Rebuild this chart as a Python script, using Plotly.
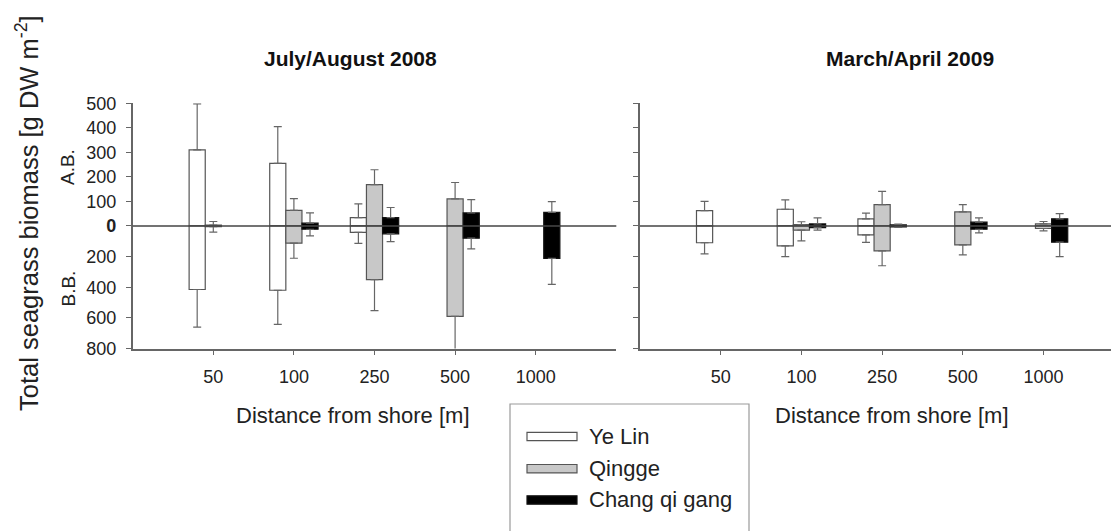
import plotly.graph_objects as go

W, H = 1111, 531

# ---------------- data ----------------
distances = ["50", "100", "250", "500", "1000"]
series_names = ["Ye Lin", "Qingge", "Chang qi gang"]
series_fill = ["#ffffff", "#c8c8c8", "#000000"]
series_edge = ["#555555", "#555555", "#111111"]
panel_titles = ["July/August 2008", "March/April 2009"]

# above-ground biomass (A.B.) and its error, below-ground biomass (B.B.) and its error
# July/August 2008
ab08_yelin = [310, 255, 34, None, None]
ab08_yelin_err = [188, 150, 56, None, None]
bb08_yelin = [415, 420, 42, None, None]
bb08_yelin_err = [245, 222, 72, None, None]

ab08_qingge = [3, 63, 168, 110, None]
ab08_qingge_err = [15, 48, 61, 67, None]
bb08_qingge = [5, 113, 350, 590, None]
bb08_qingge_err = [35, 98, 203, 260, None]

ab08_cqg = [None, 11, 34, 53, 55]
ab08_cqg_err = [None, 42, 41, 54, 44]
bb08_cqg = [None, 22, 52, 80, 212]
bb08_cqg_err = [None, 43, 50, 70, 170]

# March/April 2009
ab09_yelin = [62, 68, 29, None, None]
ab09_yelin_err = [38, 38, 23, None, None]
bb09_yelin = [110, 130, 58, None, None]
bb09_yelin_err = [72, 70, 50, None, None]

ab09_qingge = [None, 5, 87, 57, 8]
ab09_qingge_err = [None, 12, 54, 30, 10]
bb09_qingge = [None, 28, 163, 124, 17]
bb09_qingge_err = [None, 70, 97, 65, 15]

ab09_cqg = [None, 8, 4, 15, 29]
ab09_cqg_err = [None, 25, 3, 18, 21]
bb09_cqg = [None, 11, 6, 22, 106]
bb09_cqg_err = [None, 17, 3, 24, 95]

ab_ticks = [500, 400, 300, 200, 100, 0]
bb_ticks = [200, 400, 600, 800]
BB_SCALE = 500 / 800  # below-ground part is drawn on a compressed scale

panels = [
    [(ab08_yelin, ab08_yelin_err, bb08_yelin, bb08_yelin_err),
     (ab08_qingge, ab08_qingge_err, bb08_qingge, bb08_qingge_err),
     (ab08_cqg, ab08_cqg_err, bb08_cqg, bb08_cqg_err)],
    [(ab09_yelin, ab09_yelin_err, bb09_yelin, bb09_yelin_err),
     (ab09_qingge, ab09_qingge_err, bb09_qingge, bb09_qingge_err),
     (ab09_cqg, ab09_cqg_err, bb09_cqg, bb09_cqg_err)],
]

FONT = "Liberation Sans, Arial, sans-serif"
AXC = "#666666"


def px_x(x):
    return x / W


def px_y(y):
    return 1 - y / H


def neg(vals, scale=1.0):
    return [None if v is None else -v * scale for v in vals]


def zeros_like(vals):
    return [None if v is None else 0 for v in vals]


fig = go.Figure()
bar_w = 0.2
for p, series in enumerate(panels):
    xa = "x" if p == 0 else "x2"
    ya = "y" if p == 0 else "y2"
    for i, (ab, abe, bb, bbe) in enumerate(series):
        off = -0.3 + i * bar_w
        common = dict(
            x=distances, xaxis=xa, yaxis=ya, width=bar_w, offset=off,
            marker=dict(color=series_fill[i], line=dict(color=series_edge[i], width=1.2)),
            name=series_names[i], showlegend=False, legendgroup=series_names[i],
            hoverinfo="skip",
        )
        fig.add_trace(go.Bar(
            y=ab,
            error_y=dict(type="data", symmetric=False, array=abe, arrayminus=zeros_like(abe),
                         color=AXC, thickness=1.2, width=4),
            **common))
        fig.add_trace(go.Bar(
            y=neg(bb, BB_SCALE),
            error_y=dict(type="data", symmetric=False, array=zeros_like(bbe),
                         arrayminus=[None if v is None else v * BB_SCALE for v in bbe],
                         color=AXC, thickness=1.2, width=4),
            **common))

tickvals = ab_ticks + [-v * BB_SCALE for v in bb_ticks]
ticktext = [("<b>0</b>" if v == 0 else str(v)) for v in ab_ticks] + [str(v) for v in bb_ticks]

ydom = [px_y(348.5), px_y(103.3)]
yax = dict(range=[-500, 500], domain=ydom, tickvals=tickvals, ticktext=ticktext,
           showline=True, linecolor=AXC, linewidth=1.5, ticks="outside", ticklen=5,
           tickcolor=AXC, tickwidth=1.2, showgrid=False, zeroline=False, automargin=False,
           tickfont=dict(family=FONT, size=18, color="#222222"), ticklabelstandoff=6)
xax = dict(type="category", showline=True, linecolor=AXC, linewidth=1.5, ticks="outside",
           ticklen=5, tickcolor=AXC, tickwidth=1.2, showgrid=False, zeroline=False,
           automargin=False,
           tickfont=dict(family=FONT, size=18, color="#222222"), ticklabelstandoff=6)

fig.update_layout(
    template="none",
    width=W, height=H, autosize=False,
    margin=dict(l=0, r=0, t=0, b=0, pad=0),
    paper_bgcolor="white", plot_bgcolor="white",
    barmode="overlay", showlegend=False,
    xaxis=dict(xax, domain=[px_x(132.7), px_x(616.3)], range=[-1, 5], anchor="y"),
    xaxis2=dict(xax, domain=[px_x(640), 1], range=[-1, 4.836], anchor="y2"),
    yaxis=dict(yax, anchor="x"),
    yaxis2=dict(yax, anchor="x2", showticklabels=False),
)

# zero lines drawn over the bars
for xr, yr in (("x domain", "y"), ("x2 domain", "y2")):
    fig.add_shape(type="line", xref=xr, yref=yr, x0=0, x1=1, y0=0, y1=0,
                  line=dict(color="#444444", width=1.5), layer="above")

ann = []
# panel titles
for t, cx in zip(panel_titles, (351, 910)):
    ann.append(dict(text="<b>%s</b>" % t, x=px_x(cx), y=px_y(58), xref="paper", yref="paper",
                    showarrow=False, xanchor="center", yanchor="middle",
                    font=dict(family=FONT, size=21, color="#111111")))
# x axis titles
for cx in (352.5, 891.5):
    ann.append(dict(text="Distance from shore [m]", x=px_x(cx), y=px_y(415), xref="paper",
                    yref="paper", showarrow=False, xanchor="center", yanchor="middle",
                    font=dict(family=FONT, size=22, color="#222222")))
# y axis title
ann.append(dict(text="Total seagrass biomass [g DW m<sup>-2</sup>]", x=px_x(27), y=px_y(213),
                xref="paper", yref="paper", showarrow=False, textangle=-90,
                xanchor="center", yanchor="middle",
                font=dict(family=FONT, size=25.5, color="#222222")))
for t, cy in (("A.B.", 167), ("B.B.", 288.5)):
    ann.append(dict(text=t, x=px_x(68), y=px_y(cy), xref="paper", yref="paper",
                    showarrow=False, textangle=-90, xanchor="center", yanchor="middle",
                    font=dict(family=FONT, size=19, color="#222222")))

# legend (box runs off the bottom of the picture, as in the original)
fig.add_shape(type="rect", xref="paper", yref="paper", x0=px_x(510), x1=px_x(749),
              y0=px_y(560), y1=px_y(404), line=dict(color="#9a9a9a", width=1.2),
              fillcolor="rgba(0,0,0,0)", layer="above")
leg_y = [436.5, 468.7, 500]
for i, name in enumerate(series_names):
    cy = leg_y[i]
    fig.add_shape(type="rect", xref="paper", yref="paper", x0=px_x(527), x1=px_x(577),
                  y0=px_y(cy + 4.2), y1=px_y(cy - 4.2),
                  line=dict(color=series_edge[i], width=1.2), fillcolor=series_fill[i],
                  layer="above")
    ann.append(dict(text=name, x=px_x(587), y=px_y(cy), xref="paper", yref="paper",
                    showarrow=False, xanchor="left", yanchor="middle",
                    font=dict(family=FONT, size=22, color="#222222")))

fig.update_layout(annotations=ann)
fig.write_html("out.html")
